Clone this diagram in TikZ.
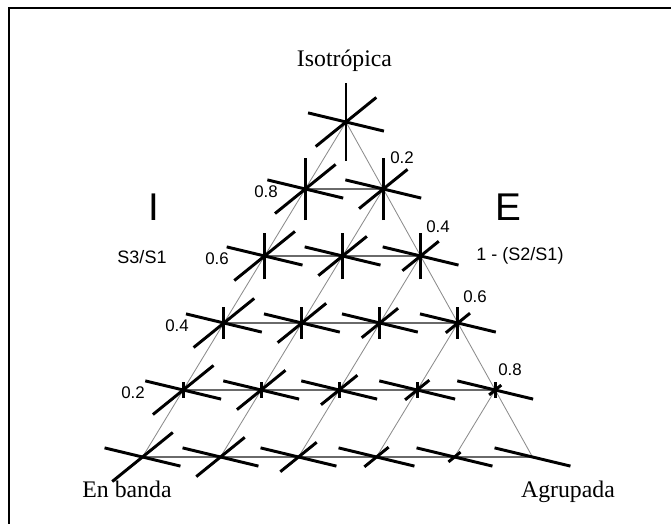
\documentclass[tikz,border=0pt]{standalone}
\usepackage{fontspec}
\setmainfont{Liberation Serif}
\setsansfont{Liberation Sans}
\usetikzlibrary{calc}
\definecolor{rowGray}{HTML}{6A6A6A}
\definecolor{diagGray}{HTML}{8C8C8C}
\tikzset{
  crossLine/.style={black, line width=2.1pt},
  rowLine/.style={rowGray, line width=1.1pt},
  diagLine/.style={diagGray, line width=0.6pt},
  frameLine/.style={black, line width=1.5pt},
  numLabel/.style={font=\sffamily\fontsize{12}{14}\selectfont, inner sep=0pt},
  axisLabel/.style={font=\sffamily\fontsize{12.8}{15}\selectfont, inner sep=0pt},
  bigLabel/.style={font=\sffamily\fontsize{27.5}{30}\selectfont, inner sep=0pt},
  vertexLabel/.style={font=\fontsize{16.9}{20}\selectfont, anchor=base, inner sep=0pt},
}

\begin{document}
\begin{tikzpicture}[x=0.025cm, y=0.025cm]
  \useasboundingbox (0,0) rectangle (671,524);
  % marco
  \draw[frameLine] (9,0) -- (9,516) -- (671,516);

  % puntos de la malla (fila r, columna j)
  \foreach \r in {0,...,5}{
    \foreach \j in {0,...,\r}{
      \coordinate (n-\r-\j) at ({346-40.7*\r+78*\j}, {402-67*\r});
    }
  }

  % lineas horizontales
  \foreach \r in {1,...,5}{
    \draw[rowLine] (n-\r-0) -- (n-\r-\r);
  }
  % lineas inclinadas
  \foreach \r in {0,...,4}{
    \pgfmathtruncatemacro{\s}{\r+1}
    \foreach \j in {0,...,\r}{
      \draw[diagLine] (n-\r-\j) -- (n-\s-\j);
    }
    \draw[diagLine] (n-\r-\r) -- (n-\s-\s);
  }

  % cruces: S1, S2, S3
  \foreach \r in {0,...,5}{
    \foreach \j in {0,...,\r}{
      \pgfmathsetmacro{\lenB}{39*(1-\j/5)}
      \pgfmathsetmacro{\lenC}{39*(1-\r/5)}
      \draw[crossLine] (n-\r-\j) ++(166.5:39) -- ++(-13.5:78);
      \draw[crossLine] (n-\r-\j) ++(219:\lenB) -- ++(39:{2*\lenB});
      \draw[crossLine] (n-\r-\j) ++(270:\lenC) -- ++(90:{2*\lenC});
    }
  }

  % textos
  \node[vertexLabel] (iso) at (344.5,457) {Isotrópica};
  \node[vertexLabel] (banda) at (127,26) {En banda};
  \node[vertexLabel] (agrup) at (568,26) {Agrupada};
  \node[bigLabel] (ejeI) at (154,317) {I};
  \node[bigLabel] (ejeE) at (508,317) {E};
  \node[axisLabel] (s3s1) at (142,267) {S3/S1};
  \node[axisLabel] (s2s1) at (520,268) {1 - (S2/S1)};
  \foreach \v/\px/\py [count=\k] in {0.8/266/332, 0.6/217/265, 0.4/177/198, 0.2/133/131}{
    \node[numLabel] (izq-\k) at (\px,\py) {\v};
  }
  \foreach \v/\px/\py [count=\k] in {0.2/402/366, 0.4/438/297, 0.6/475/227, 0.8/510/154}{
    \node[numLabel] (der-\k) at (\px,\py) {\v};
  }
\end{tikzpicture}
\end{document}
